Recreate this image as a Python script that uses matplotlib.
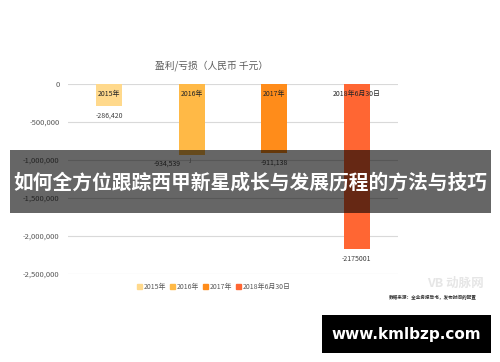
import matplotlib
matplotlib.use("Agg")
import matplotlib.pyplot as plt
from matplotlib.patches import Rectangle

plt.rcParams['font.family'] = ['Noto Sans CJK SC', 'DejaVu Sans']

categories = ['2015年', '2016年', '2017年', '2018年6月30日']
values = [-286420, -934539, -911138, -2175001]
value_labels = ['-286,420', '-934,539', '-911,138', '-2175001']
colors = ['#FFD98C', '#FFB946', '#FF8C1A', '#FF6633']
yticks = [0, -500000, -1000000, -1500000, -2000000, -2500000]
ytick_labels = ['0', '-500,000', '-1,000,000', '-1,500,000', '-2,000,000', '-2,500,000']
title = '盈利/亏损（人民币 千元）'
banner = '如何全方位跟踪西甲新星成长与发展历程的方法与技巧'
site = 'www.kmlbzp.com'

W, H = 500, 362
fig = plt.figure(figsize=(W / 100, H / 100), dpi=100)
fig.patch.set_facecolor('white')

# plot area in pixel terms: x 68..398, y 84 (zero) .. 274 (-2.5M)
ax = fig.add_axes([68 / W, 1 - 274 / H, 330 / W, (274 - 84) / H])
x = list(range(len(categories)))
bars = ax.bar(x, values, width=0.315, color=colors, zorder=2)
ax.set_xlim(-0.5, len(categories) - 0.5)
ax.set_ylim(-2500000, 0)
ax.set_yticks(yticks)
ax.set_yticklabels(ytick_labels)
ax.set_xticks([])
ax.tick_params(axis='y', length=0, labelsize=5.5, labelcolor='#595959', pad=6)
ax.grid(axis='y', color='#D9D9D9', linewidth=0.8, zorder=0)
for s in ax.spines.values():
    s.set_visible(False)
ax.set_clip_on(False)

# category names inside the bars
for xi, name in zip(x, categories):
    ax.annotate(name, (xi, 0), xytext=(0, -7), textcoords='offset points',
                ha='center', va='center', fontsize=5, color='#262626', zorder=3)

# value labels below the bars
offsets = [(0, -7), (-18, -6), (0, -7), (0, -7)]
for xi, v, lab, off in zip(x, values, value_labels, offsets):
    ax.annotate(lab, (xi, v), xytext=off, textcoords='offset points',
                ha='center', va='center', fontsize=5, color='#404040', zorder=3)

# leader line for the 2016 label
ax.annotate('', xy=(x[1] - 0.02, values[1]), xytext=(x[1] - 0.07, values[1] - 95000),
            arrowprops=dict(arrowstyle='-', color='#A6A6A6', lw=0.6,
                            connectionstyle='angle,angleA=0,angleB=90,rad=0'))

fig.text(212 / W, 1 - 66 / H, title, ha='center', va='center', fontsize=7, color='#595959')

# legend row
handles = [Rectangle((0, 0), 1, 1, color=c) for c in colors]
fig.legend(handles, categories, loc='center', bbox_to_anchor=(214 / W, 1 - 287 / H),
           ncol=4, frameon=False, fontsize=5, labelcolor='#595959',
           handlelength=0.7, handleheight=0.7, handletextpad=0.3, columnspacing=0.5)

# source note and watermark
fig.text(433 / W, 1 - 298 / H, '数据来源：全业务报告书，发布时间的配置', ha='center', va='center',
         fontsize=3.3, color='#333333', style='italic', fontweight='bold')
fig.text(455 / W, 1 - 283 / H, 'VB 动脉网', ha='center', va='center',
         fontsize=9, color='#E6E6E6', fontweight='bold')

# dark banner across the chart
fig.patches.append(Rectangle((10 / W, 1 - 213 / H), 481 / W, 63 / H, transform=fig.transFigure,
                             facecolor='black', alpha=0.6, edgecolor='none', zorder=10))
fig.text(250 / W, 1 - 183 / H, banner, ha='center', va='center', fontsize=14.2,
         color='white', fontweight='bold', zorder=11)

# site box
fig.patches.append(Rectangle((322 / W, 1 - 353 / H), 169 / W, 38 / H, transform=fig.transFigure,
                             facecolor='black', edgecolor='none', zorder=10))
fig.text(406 / W, 1 - 334 / H, site, ha='center', va='center', fontsize=11,
         color='white', fontweight='bold', family='DejaVu Sans', zorder=11)

fig.savefig('out.png', dpi=100)
